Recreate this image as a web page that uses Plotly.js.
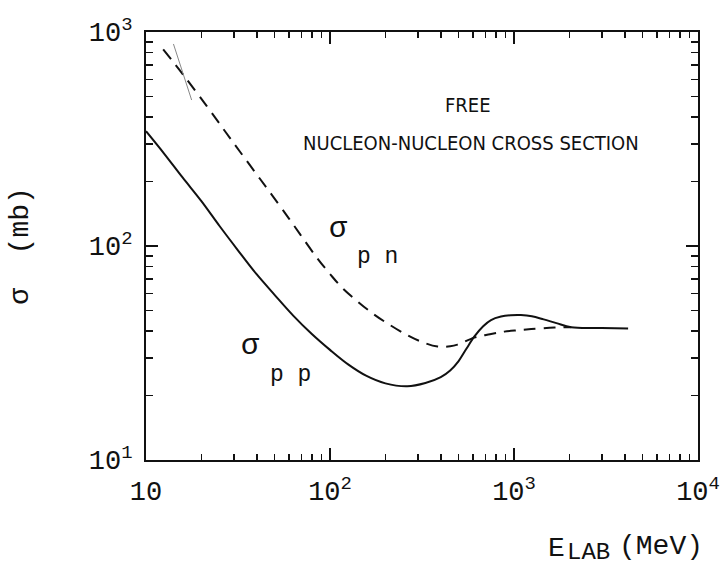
<!DOCTYPE html>
<html>
<head>
<meta charset="utf-8">
<script src="https://cdn.plot.ly/plotly-3.0.1.min.js"></script>
<style>html,body{margin:0;padding:0;background:#fff;}#chart{width:724px;height:570px;}</style>
</head>
<body>
<div id="chart"></div>
<script>
// sigma_pp (solid) : E_lab (MeV) vs cross section (mb)
var ppEnergy = [10, 12.6, 15.8, 20, 25.1, 31.6, 39.8, 50.1, 63.1, 79.4, 100, 126, 158, 200, 263, 330, 400, 450, 500, 550, 608, 680, 750, 850, 960, 1090, 1250, 1450, 1700, 2046, 3000, 4170];
var ppSigma  = [344, 269, 209, 162, 124, 95.5, 74, 59, 47.3, 38.9, 32.7, 27.9, 24.7, 22.8, 22.1, 22.9, 24.4, 26.2, 29.0, 33.0, 37.7, 42.2, 45.1, 46.8, 47.5, 47.6, 47.0, 45.4, 43.6, 41.7, 41.4, 41.2];
// sigma_pn (dashed)
var pnEnergy = [12.4, 16, 21.4, 27, 32.5, 41.8, 48.4, 60, 69, 85, 100, 115, 138, 170, 205, 260, 311, 384, 450, 493, 608, 740, 885, 1050, 1240, 1660, 2046];
var pnSigma  = [830, 628, 450, 342, 275, 205, 173, 134, 113, 88, 74, 64.5, 56, 48.5, 43.5, 38.5, 35.8, 33.9, 34.0, 34.6, 37.3, 38.7, 39.8, 40.4, 40.9, 41.6, 41.7];
// faint stray pen stroke visible in the scanned original (top-left)
var strokeEnergy = [14.1, 17.7];
var strokeSigma  = [879, 481];

var xTickVals = [10, 100, 1000, 10000];
var xTickText = ['10', '10<sup>2</sup>', '10<sup>3</sup>', '10<sup>4</sup>'];
var yTickVals = [10, 100, 1000];
var yTickText = ['10<sup>1</sup>', '10<sup>2</sup>', '10<sup>3</sup>'];
var minorDigits = [2, 3, 4, 5, 6, 7, 8, 9];

function minorVals(decades) {
  var out = [];
  decades.forEach(function (d) { minorDigits.forEach(function (m) { out.push(m * d); }); });
  return out;
}

var mono = 'Liberation Mono, Courier New, monospace';
var narrow = 'Liberation Sans Narrow, DejaVu Sans Condensed, Arial Narrow, sans-serif';

var traces = [
  {x: ppEnergy, y: ppSigma, type: 'scatter', mode: 'lines', line: {color: '#111', width: 2, shape: 'spline', smoothing: 1}, hoverinfo: 'none'},
  {x: pnEnergy, y: pnSigma, type: 'scatter', mode: 'lines', line: {color: '#111', width: 2, dash: '12px,8px', shape: 'spline', smoothing: 1}, hoverinfo: 'none'},
  {x: strokeEnergy, y: strokeSigma, type: 'scatter', mode: 'lines', line: {color: '#888', width: 1}, hoverinfo: 'none'}
];

var axisCommon = {
  type: 'log',
  showgrid: false,
  zeroline: false,
  showline: true,
  linecolor: '#111',
  linewidth: 2,
  mirror: 'ticks',
  ticks: 'inside',
  ticklen: 12,
  tickwidth: 1.5,
  tickcolor: '#111',
  tickmode: 'array',
  tickfont: {family: mono, size: 27, color: '#111'}
};

var layout = {
  width: 724, height: 570,
  paper_bgcolor: '#fff', plot_bgcolor: '#fff',
  showlegend: false,
  margin: {l: 146, r: 26, t: 32, b: 110},
  xaxis: Object.assign({}, axisCommon, {
    range: [1, 4],
    tickvals: xTickVals, ticktext: xTickText,
    ticklabelstandoff: 6,
    minor: {tickmode: 'array', tickvals: minorVals([10, 100, 1000]), ticks: 'inside', ticklen: 6, tickwidth: 1.5, tickcolor: '#111'}
  }),
  yaxis: Object.assign({}, axisCommon, {
    range: [1, 3],
    tickvals: yTickVals, ticktext: yTickText,
    ticklabelstandoff: 6,
    minor: {tickmode: 'array', tickvals: minorVals([10, 100]), ticks: 'inside', ticklen: 7, tickwidth: 1.5, tickcolor: '#111'},
    title: {text: 'σ  (mb)', font: {family: mono, size: 28, color: '#111'}, standoff: 52}
  }),
  annotations: [
    {xref: 'paper', yref: 'paper', x: 0.583, y: 0.83, xanchor: 'center', yanchor: 'middle', text: 'FREE', showarrow: false, font: {family: narrow, size: 20, color: '#111'}},
    {xref: 'paper', yref: 'paper', x: 0.588, y: 0.74, xanchor: 'center', yanchor: 'middle', text: 'NUCLEON-NUCLEON CROSS SECTION', showarrow: false, font: {family: narrow, size: 20, color: '#111'}},
    {xref: 'x', yref: 'y', x: 2.046, y: 2.079, xanchor: 'center', yanchor: 'middle', text: 'σ', showarrow: false, font: {family: mono, size: 30, color: '#111'}},
    {xref: 'x', yref: 'y', x: 2.259, y: 1.949, xanchor: 'center', yanchor: 'middle', text: 'p n', showarrow: false, font: {family: mono, size: 23, color: '#111'}},
    {xref: 'x', yref: 'y', x: 1.567, y: 1.533, xanchor: 'center', yanchor: 'middle', text: 'σ', showarrow: false, font: {family: mono, size: 30, color: '#111'}},
    {xref: 'x', yref: 'y', x: 1.785, y: 1.397, xanchor: 'center', yanchor: 'middle', text: 'p p', showarrow: false, font: {family: mono, size: 23, color: '#111'}},
    {xref: 'paper', yref: 'paper', x: 0.743, y: -0.206, xanchor: 'center', yanchor: 'middle', text: 'E', showarrow: false, font: {family: mono, size: 28, color: '#111'}},
    {xref: 'paper', yref: 'paper', x: 0.801, y: -0.217, xanchor: 'center', yanchor: 'middle', text: 'LAB', showarrow: false, font: {family: mono, size: 24, color: '#111'}},
    {xref: 'paper', yref: 'paper', x: 0.933, y: -0.201, xanchor: 'center', yanchor: 'middle', text: '(MeV)', showarrow: false, font: {family: mono, size: 28, color: '#111'}}
  ]
};

Plotly.newPlot('chart', traces, layout, {displayModeBar: false, staticPlot: true});
</script>
</body>
</html>
